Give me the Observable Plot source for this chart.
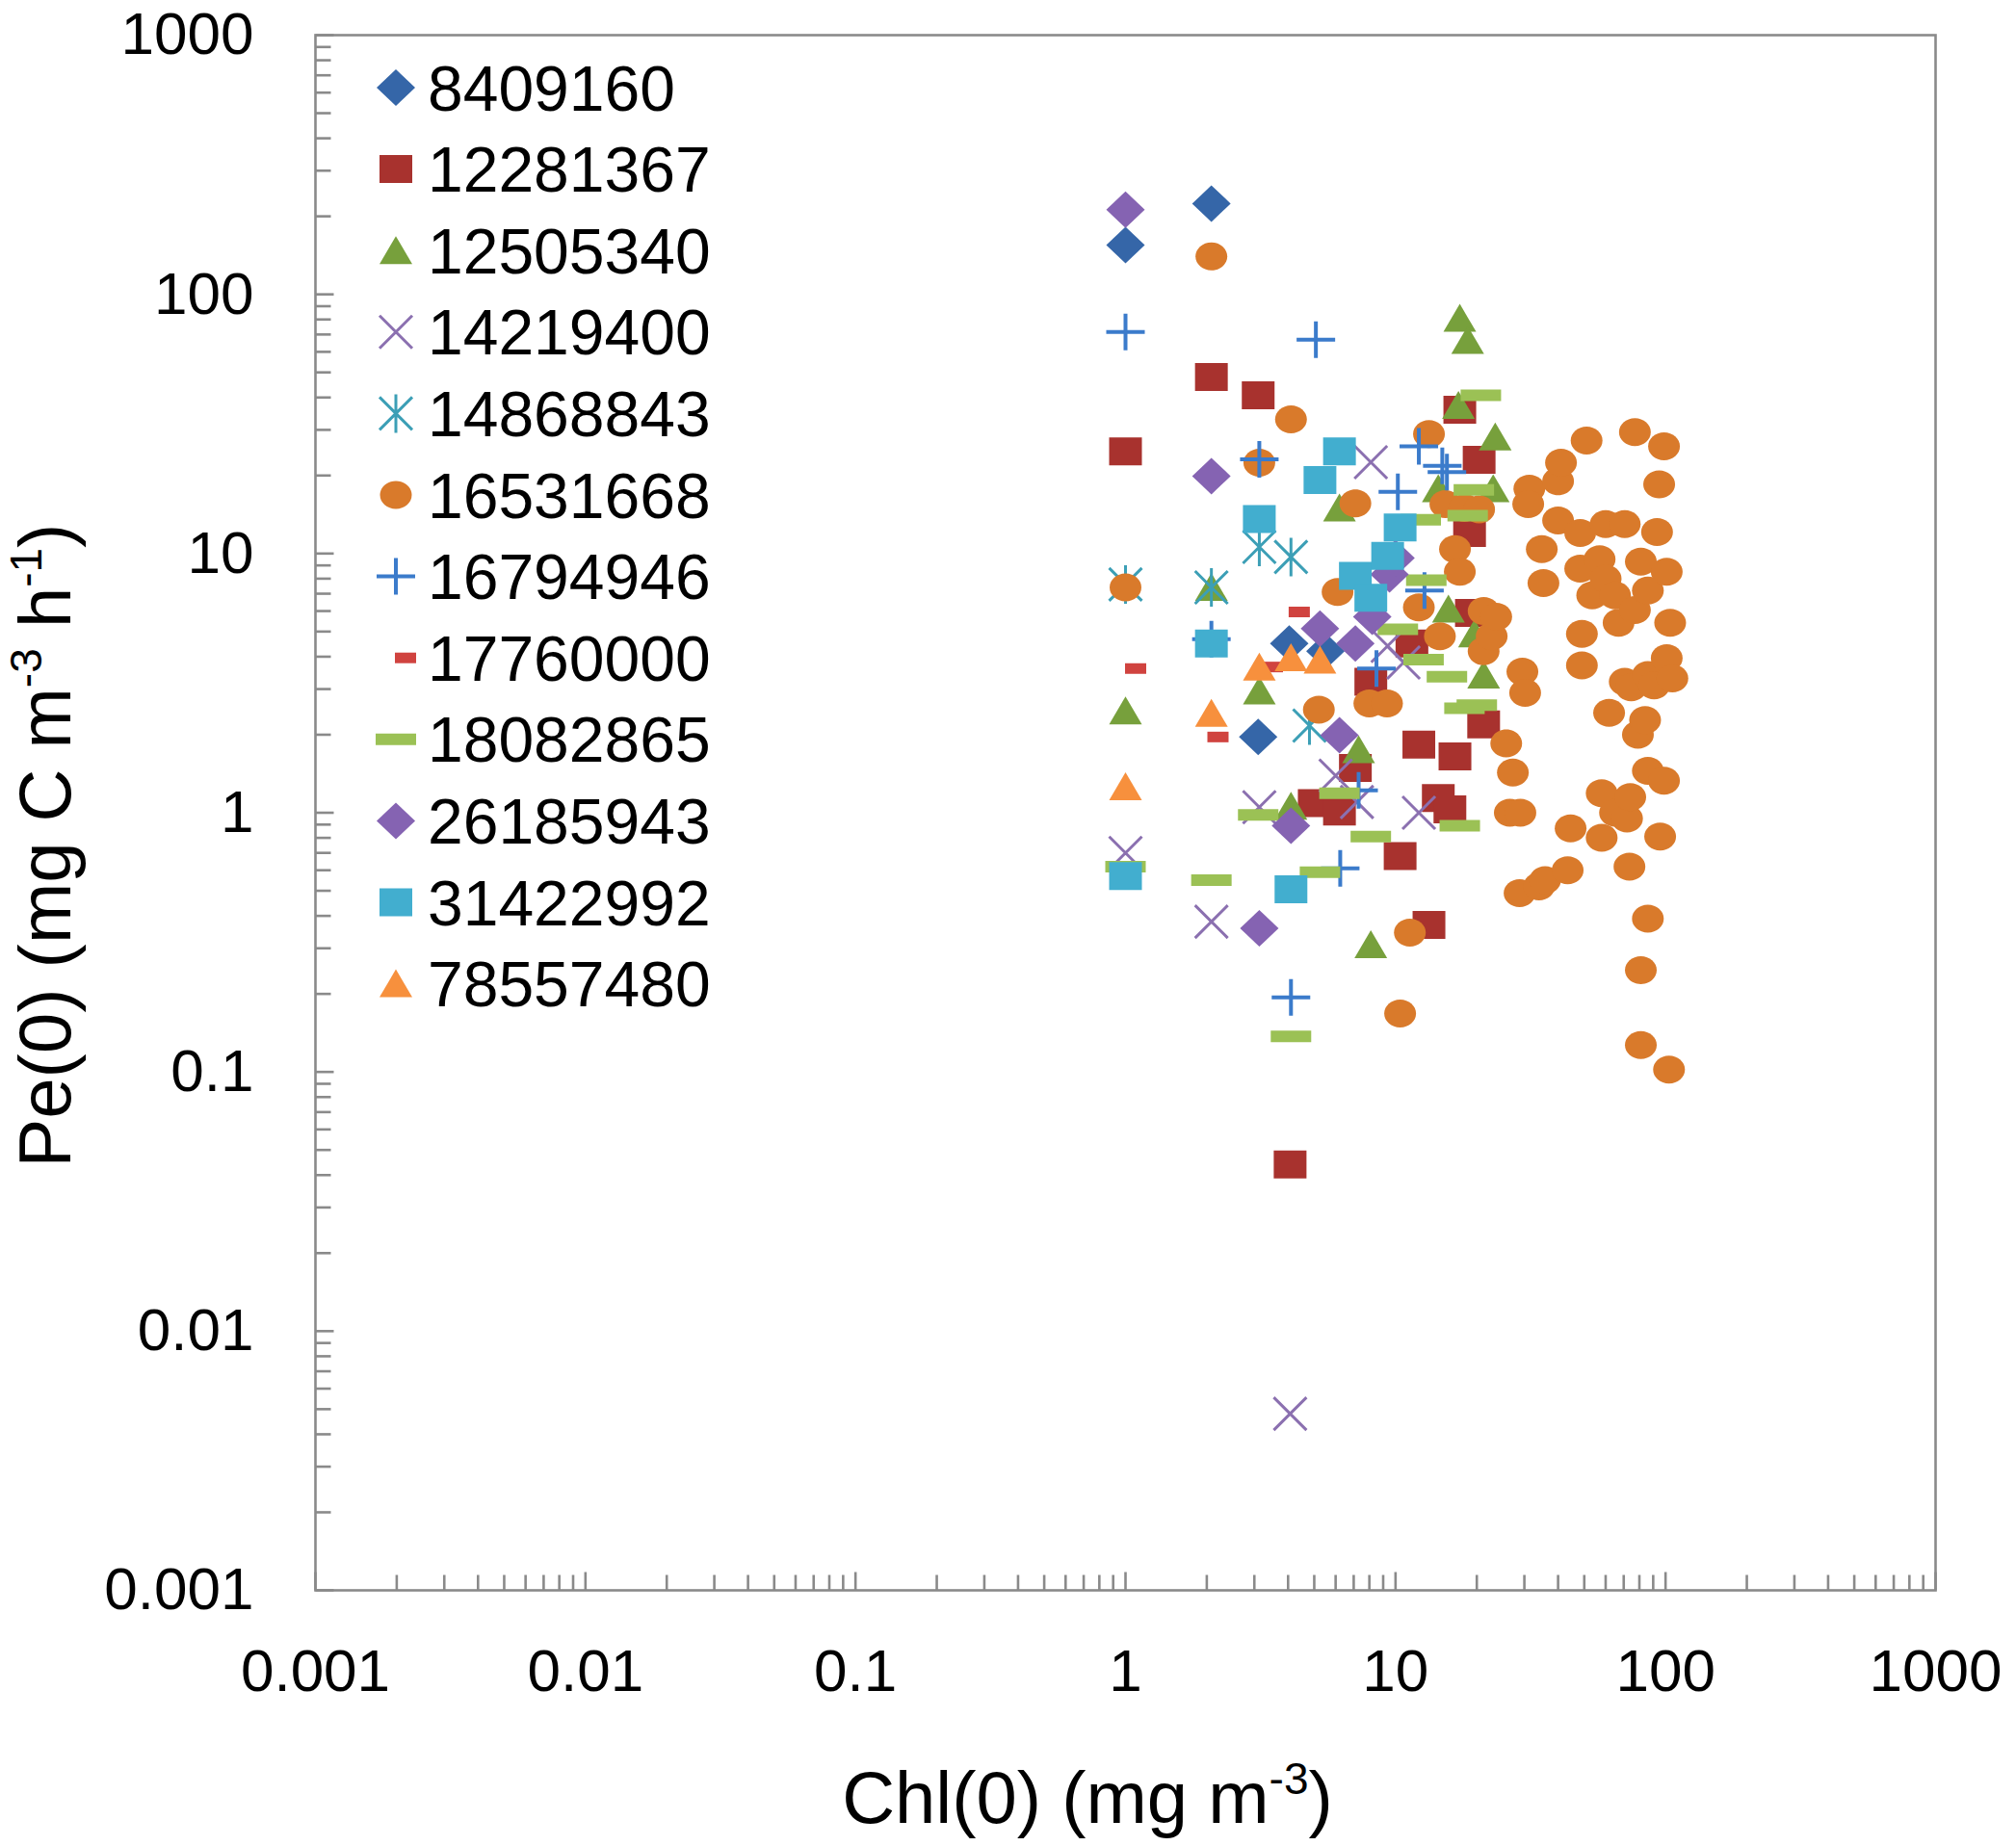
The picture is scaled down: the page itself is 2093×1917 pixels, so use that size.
<!DOCTYPE html>
<html>
<head>
<meta charset="utf-8">
<script src="https://cdn.jsdelivr.net/npm/d3@7"></script>
<script src="https://cdn.jsdelivr.net/npm/@observablehq/plot@0.6"></script>
<style>
  html, body { margin: 0; padding: 0; background: #fff; }
  #chart svg { display: block; }
</style>
</head>
<body>
<div id="chart"></div>
<script>
// ---------------- data (Chl(0) mg m-3, Pe(0) mg C m-3 h-1) ----------------
const seriesNames = ["8409160","12281367","12505340","14219400","14868843","16531668",
  "16794946","17760000","18082865","26185943","31422992","78557480"];

const s8409160 = [[1,155],[2.08,224],[3.1,1.96],[4.04,4.5],[5.5,4.2]];
const s12281367 = [[1,24.8],[2.08,48],[3.1,40.8],[4.07,0.044],[5,1.09],[6.2,1.01],[7.1,1.49],
  [8.1,3.2],[10.4,0.68],[11.5,4.5],[12.2,1.83],[13.3,0.369],[14.4,1.14],[15.9,1.03],[16.6,1.65],
  [17.3,35.9],[18.8,12],[19.1,5.9],[20.4,23],[21.2,2.19]];
const s12505340 = [[1,2.47],[2.08,7.4],[3.13,2.95],[4.1,1.06],[6.2,15],[7.3,1.75],[8.1,0.31],
  [14.4,17.8],[15.7,6.1],[17.1,37.3],[17.3,80.8],[18.5,66.4],[19.6,4.9],[21.2,3.4],[23,17.8],[23.4,28.2]];
const s14219400 = [[1,0.7],[2.08,0.38],[3.13,1.05],[4.07,0.0048],[6,1.39],[7.2,1.1],[8.1,22.5],
  [9.35,4.4],[10.7,3.8],[12.2,1.0]];
const s14868843 = [[1,7.6],[2.08,7.4],[3.13,10.6],[4.1,9.7],[4.8,2.17]];
const s16531668 = [[1,7.4],[2.08,140],[3.13,22.4],[4.1,32.9],[5.2,2.5],[6.1,7.1],[7.1,15.6],[8,2.64],
  [9.3,2.64],[10.4,0.168],[11.3,0.345],[12.2,6.2],[13.3,28.9],[14.6,4.8],[15.3,15.5],[16.6,10.4],
  [17.3,8.5],[18,15],[20.4,14.8],[21.2,6.0],[21.2,4.2],[22.7,4.8],[23.6,5.7],
  [25.7,1.85],[27.2,1.43],[26.5,1.0],[29,1.0],[28.8,0.49],[29.5,3.5],[30.2,2.9],[31.3,17.8],[31,15.5],
  [34,0.52],[34.8,10.4],[35.3,7.7],[35.8,0.55],[40,19],[41,22.4],[40,13.4],[43.4,0.6],[44.5,0.87],
  [48.3,12],[48.3,8.75],[49,4.9],[49,3.7],[51,27.3],[53.5,6.9],[57,9.5],[58,1.19],[58,0.8],[60,13],
  [60,8.0],[61.8,2.43],[65,6.9],[65,1.0],[67,5.4],[70.6,13],[70.6,3.2],[72,0.95],[73.5,0.62],[74,1.15],
  [74.6,3.05],[77,29.4],[77,6.05],[79,2.0],[81,9.3],[81,0.247],[81,0.127],[84,2.28],[86,7.2],[86,3.4],
  [86,1.45],[86,0.39],[90.7,3.1],[93,12.1],[94.7,18.5],[95.5,0.81],[98.7,25.9],[98.7,1.33],[101,8.5],
  [101,3.95],[103,0.102],[104,5.4],[106,3.3]];
const s16794946 = [[1,71.6],[2.08,4.67],[3.13,23.1],[4.1,0.194],[5.07,66.8],[6.24,0.61],[7.3,1.22],
  [8.5,3.6],[10.2,17.3],[12.2,25.9],[12.8,7.2],[14.9,21.8],[15.5,20.6]];
const s17760000 = [[1.09,3.6],[2.2,1.96],[3.5,3.65],[4.4,5.95]];
const s18082865 = [[1,0.62],[2.08,0.55],[3.1,0.98],[4.1,0.137],[5.25,0.59],[6.2,1.19],[8.1,0.81],
  [10.2,5.1],[12.4,13.5],[12.7,3.9],[13,7.9],[15.5,3.35],[17.3,0.89],[18,2.53],[18.5,14],[19.5,17.6],
  [20,2.6],[20.7,40.8]];
const s26185943 = [[1,212],[2.08,19.9],[3.13,0.358],[4.1,0.89],[5.25,5.14],[6.2,1.99],[7.1,4.5],
  [8.2,5.7],[9.5,8.3],[10,9.6]];
const s31422992 = [[1,0.57],[2.08,4.5],[3.13,13.6],[4.1,0.507],[5.25,19.2],[6.2,24.8],[7.1,8.2],
  [8.1,6.75],[9.35,9.8],[10.4,12.6]];
const s78557480 = [[1,1.26],[2.08,2.42],[3.13,3.65],[4.1,3.96],[5.25,3.88]];

const seriesData = [s8409160,s12281367,s12505340,s14219400,s14868843,s16531668,
  s16794946,s17760000,s18082865,s26185943,s31422992,s78557480];

const tickValues = [0.001,0.01,0.1,1,10,100,1000];
const tickLabels = ["0.001","0.01","0.1","1","10","100","1000"];
const minorMultipliers = [2,3,4,5,6,7,8,9];

// ---------------- marker shapes ----------------
const shape = fn => ({draw(ctx){ fn(ctx); }});
const K = 0.5523;
const symDiamond = shape(c => { c.moveTo(0,-19); c.lineTo(20,0); c.lineTo(0,19); c.lineTo(-20,0); c.closePath(); });
const symSquare = shape(c => { c.rect(-17,-14.5,34,29); });
const symTriangle = shape(c => { c.moveTo(0,-15); c.lineTo(17,14); c.lineTo(-17,14); c.closePath(); });
const symCircle = shape(c => {
  const rx = 16.5, ry = 14.5;
  c.moveTo(rx,0);
  c.bezierCurveTo(rx, ry*K, rx*K, ry, 0, ry);
  c.bezierCurveTo(-rx*K, ry, -rx, ry*K, -rx, 0);
  c.bezierCurveTo(-rx, -ry*K, -rx*K, -ry, 0, -ry);
  c.bezierCurveTo(rx*K, -ry, rx, -ry*K, rx, 0);
  c.closePath();
});
const symTimes = shape(c => { c.moveTo(-17,-17); c.lineTo(17,17); c.moveTo(17,-17); c.lineTo(-17,17); });
const symPlus = shape(c => { c.moveTo(-20,0); c.lineTo(20,0); c.moveTo(0,-19); c.lineTo(0,19); });
const symStar = shape(c => { c.moveTo(-17,-17); c.lineTo(17,17); c.moveTo(17,-17); c.lineTo(-17,17); c.moveTo(0,-20); c.lineTo(0,20); });
const symShortDash = shape(c => { c.rect(-11,-5.5,22,11); });
const symLongDash = shape(c => { c.rect(-21,-6,42,12); });
const tickRight = shape(c => { c.moveTo(0,0); c.lineTo(16,0); });
const tickRightMajor = shape(c => { c.moveTo(0,0); c.lineTo(19,0); });
const tickUp = shape(c => { c.moveTo(0,0); c.lineTo(0,-16); });
const tickUpMajor = shape(c => { c.moveTo(0,0); c.lineTo(0,-19); });

const styles = [
  {symbol: symDiamond, fill: "#3566a8"},
  {symbol: symSquare, fill: "#a8322e"},
  {symbol: symTriangle, fill: "#77a03c"},
  {symbol: symTimes, stroke: "#8b70b0", strokeWidth: 3},
  {symbol: symStar, stroke: "#3c9fb6", strokeWidth: 3},
  {symbol: symCircle, fill: "#d97a2b"},
  {symbol: symPlus, stroke: "#3b7bcb", strokeWidth: 4},
  {symbol: symShortDash, fill: "#d0433f"},
  {symbol: symLongDash, fill: "#9bc155"},
  {symbol: symDiamond, fill: "#8563b2"},
  {symbol: symSquare, fill: "#42aecf"},
  {symbol: symTriangle, fill: "#f7903d"}
];

const minorTicks = [];
for (const t of tickValues.slice(0, -1)) for (const m of minorMultipliers) minorTicks.push(t * m);
const labelOf = new Map(tickValues.map((v, i) => [v, tickLabels[i]]));

const frameColor = "#8a8a8a";
const marks = [];
seriesData.forEach((data, i) => {
  const st = styles[i];
  marks.push(Plot.dot(data, {
    x: d => d[0], y: d => d[1], r: 1, symbol: st.symbol,
    fill: st.fill || "none", stroke: st.stroke || "none", strokeWidth: st.strokeWidth || 0
  }));
});

const svg = Plot.plot({
  width: 2093, height: 1917,
  marginLeft: 327, marginRight: 84, marginTop: 36, marginBottom: 266,
  style: {fontFamily: "'Liberation Sans', Arial, sans-serif", background: "#fff", color: "#000"},
  x: {type: "log", domain: [0.001, 1000], axis: null},
  y: {type: "log", domain: [0.001, 1000], axis: null},
  marks: [
    // inward ticks
    Plot.dot(minorTicks, {x: () => 0.001, y: d => d, r: 1, symbol: tickRight, stroke: frameColor, strokeWidth: 2.6}),
    Plot.dot(tickValues, {x: () => 0.001, y: d => d, r: 1, symbol: tickRightMajor, stroke: frameColor, strokeWidth: 2.6}),
    Plot.dot(minorTicks, {x: d => d, y: () => 0.001, r: 1, symbol: tickUp, stroke: frameColor, strokeWidth: 2.6}),
    Plot.dot(tickValues, {x: d => d, y: () => 0.001, r: 1, symbol: tickUpMajor, stroke: frameColor, strokeWidth: 2.6}),
    Plot.axisY({ticks: tickValues, tickFormat: d => labelOf.get(d), tickSize: 0, tickPadding: 64, fontSize: 62, label: null}),
    Plot.axisX({ticks: tickValues, tickFormat: d => labelOf.get(d), tickSize: 0, tickPadding: 60, fontSize: 62, label: null}),
    ...marks,
    Plot.frame({stroke: frameColor, strokeWidth: 2.6})
  ]
});

// ---------------- axis titles & legend ----------------
const root = d3.select(svg);
const font = "'Liberation Sans', Arial, sans-serif";

const xt = root.append("text").attr("x", 1129).attr("y", 1893).attr("text-anchor", "middle")
  .attr("font-family", font).attr("font-size", 76).attr("fill", "#000");
xt.append("tspan").text("Chl(0) (mg m");
xt.append("tspan").attr("font-size", 46).attr("dy", -30).text("-3");
xt.append("tspan").attr("dy", 30).text(")");

const yt = root.append("text").attr("transform", "translate(73,878) rotate(-90)").attr("text-anchor", "middle")
  .attr("font-family", font).attr("font-size", 76).attr("fill", "#000");
yt.append("tspan").text("Pe(0) (mg C m");
yt.append("tspan").attr("font-size", 46).attr("dy", -30).text("-3");
yt.append("tspan").attr("dy", 30).text(" h");
yt.append("tspan").attr("font-size", 46).attr("dy", -30).text("-1");
yt.append("tspan").attr("dy", 30).text(")");

const legend = root.append("g");
const markerX = [411, 411, 411, 411, 411, 411, 411, 421, 411, 411, 411, 411];
seriesNames.forEach((name, i) => {
  const y = 91 + i * 84.6;
  const st = styles[i];
  legend.append("path")
    .attr("transform", `translate(${markerX[i]},${y})`)
    .attr("d", d3.symbol(st.symbol)())
    .attr("fill", st.fill || "none")
    .attr("stroke", st.stroke || "none")
    .attr("stroke-width", st.strokeWidth || 0);
  legend.append("text").attr("x", 444).attr("y", y + 23.5).attr("text-anchor", "start")
    .attr("font-family", font).attr("font-size", 66).attr("fill", "#000").text(name);
});

document.getElementById("chart").appendChild(svg);
</script>
</body>
</html>
